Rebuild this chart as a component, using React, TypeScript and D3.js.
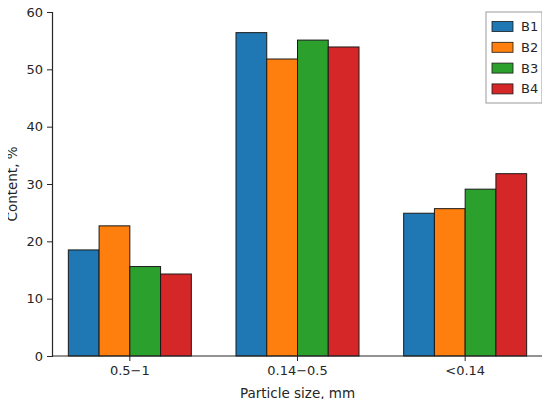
import React, { useEffect, useRef } from "react";
import * as d3 from "d3";

const categories = ["0.5\u22121", "0.14\u22120.5", "<0.14"];
const seriesNames = ["B1", "B2", "B3", "B4"];
const seriesColors = ["#1f77b4", "#ff7f0e", "#2ca02c", "#d62728"];
const b1 = [18.5, 56.4, 24.9];
const b2 = [22.7, 51.8, 25.7];
const b3 = [15.6, 55.1, 29.1];
const b4 = [14.3, 53.9, 31.8];
const seriesValues = [b1, b2, b3, b4];
const yTicks = [0, 10, 20, 30, 40, 50, 60];

export default function App() {
  const ref = useRef<SVGSVGElement>(null);

  useEffect(() => {
    if (!ref.current) return;
    const width = 550;
    const height = 407;
    const margin = { top: 12, right: 7, bottom: 51, left: 52 };
    const chartWidth = width - margin.left - margin.right;
    const chartHeight = height - margin.top - margin.bottom;
    const font = "DejaVu Sans, sans-serif";
    const ink = "#262626";

    const root = d3.select(ref.current);
    root.selectAll("*").remove();
    root
      .append("rect")
      .attr("width", width)
      .attr("height", height)
      .attr("fill", "#ffffff");

    const svg = root
      .append("g")
      .attr("transform", `translate(${margin.left},${margin.top})`);

    // group positions
    const x = d3
      .scaleBand()
      .domain(categories)
      .range([-6, chartWidth + 6])
      .paddingInner(0)
      .paddingOuter(0);

    const groupWidth = 123;
    const xs = d3
      .scaleBand()
      .domain(seriesNames)
      .range([0, groupWidth]);

    const y = d3.scaleLinear().domain([0, 60]).range([chartHeight, 0]);

    // Bars
    seriesNames.forEach((name, si) => {
      svg
        .selectAll(`.bar-${name}`)
        .data(categories.map((c, ci) => ({ c, v: seriesValues[si][ci] })))
        .enter()
        .append("rect")
        .attr("class", `bar-${name}`)
        .attr(
          "x",
          (d) =>
            (x(d.c) || 0) + x.bandwidth() / 2 - groupWidth / 2 + (xs(name) || 0),
        )
        .attr("y", (d) => y(d.v))
        .attr("width", xs.bandwidth())
        .attr("height", (d) => chartHeight - y(d.v))
        .attr("fill", seriesColors[si])
        .attr("stroke", "#1a1a1a")
        .attr("stroke-width", 1);
    });

    // Y axis
    const yAxis = svg
      .append("g")
      .call(d3.axisLeft(y).tickValues(yTicks).tickSize(5).tickPadding(4));
    yAxis.select(".domain").attr("stroke", ink).attr("stroke-width", 1.2);
    yAxis.selectAll(".tick line").attr("stroke", ink);
    yAxis
      .selectAll(".tick text")
      .attr("fill", ink)
      .attr("font-size", "13px")
      .attr("font-family", font);

    // X axis
    const xAxis = svg
      .append("g")
      .attr("transform", `translate(0,${chartHeight})`)
      .call(d3.axisBottom(x).tickSize(5).tickPadding(5));
    xAxis
      .select(".domain")
      .attr("d", `M0,0H${chartWidth}`)
      .attr("stroke", ink)
      .attr("stroke-width", 1.2);
    xAxis.selectAll(".tick line").attr("stroke", ink);
    xAxis
      .selectAll(".tick text")
      .attr("fill", ink)
      .attr("font-size", "13px")
      .attr("font-family", font);

    // Axis labels
    svg
      .append("text")
      .attr("x", (x(categories[1]) || 0) + x.bandwidth() / 2)
      .attr("y", chartHeight + 42)
      .attr("text-anchor", "middle")
      .attr("fill", ink)
      .attr("font-size", "13.5px")
      .attr("font-family", font)
      .text("Particle size, mm");

    svg
      .append("text")
      .attr("transform", `translate(-35,${chartHeight / 2}) rotate(-90)`)
      .attr("text-anchor", "middle")
      .attr("fill", ink)
      .attr("font-size", "13.5px")
      .attr("font-family", font)
      .text("Content, %");

    // Legend
    const legend = root.append("g").attr("transform", "translate(486,12)");
    legend
      .append("rect")
      .attr("width", 56)
      .attr("height", 91)
      .attr("fill", "#ffffff")
      .attr("stroke", "#999999")
      .attr("stroke-width", 1);
    seriesNames.forEach((name, i) => {
      const row = legend
        .append("g")
        .attr("transform", `translate(0,${14.5 + i * 20.8})`);
      row
        .append("rect")
        .attr("x", 6)
        .attr("y", -5)
        .attr("width", 21)
        .attr("height", 10)
        .attr("fill", seriesColors[i])
        .attr("stroke", "#1a1a1a")
        .attr("stroke-width", 0.8);
      row
        .append("text")
        .attr("x", 35)
        .attr("y", 0)
        .attr("dy", "0.35em")
        .attr("fill", ink)
        .attr("font-size", "13px")
        .attr("font-family", font)
        .text(name);
    });
  }, []);

  return (
    <div style={{ margin: -8 }}>
      <svg ref={ref} width={550} height={407} style={{ display: "block" }} />
    </div>
  );
}
